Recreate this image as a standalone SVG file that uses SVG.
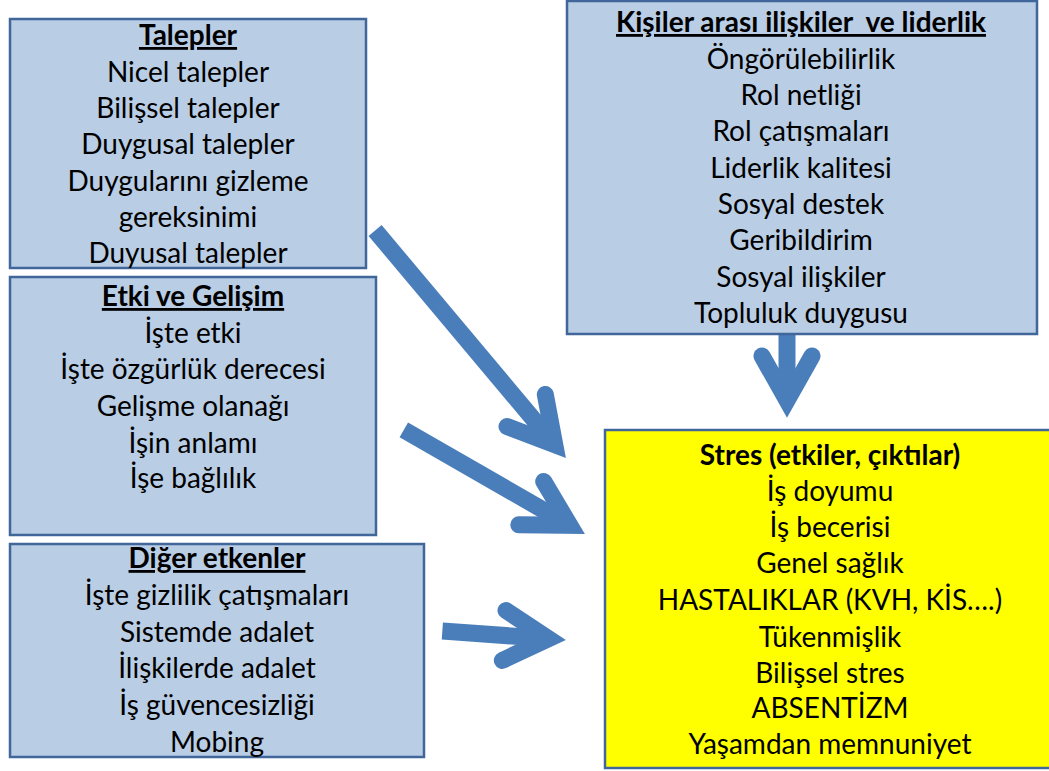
<svg xmlns="http://www.w3.org/2000/svg" width="1049" height="771" viewBox="0 0 1049 771">
<style>
  .box { fill: #B9CDE5; stroke: #41669A; stroke-width: 2.5; }
  .ybox { fill: #FFFF00; stroke: #41669A; stroke-width: 2.5; }
  text { font-family: Lato, "Liberation Sans", sans-serif; font-size: 28px; fill: #000; text-anchor: middle; }
  .t { font-weight: bold; text-decoration: underline; }
  .tb { font-weight: bold; }
  .shaft { stroke: #4A7EBB; stroke-width: 17; fill: none; stroke-linecap: butt; }
  .head { stroke: #4A7EBB; stroke-width: 17; fill: none; stroke-linecap: round; stroke-linejoin: miter; stroke-miterlimit: 6; }
</style>
<defs>
  <polyline id="ah" class="head" points="-62,-25 -17.5,0 -62,25"/>
</defs>
<g id="connectors">
  <g transform="translate(566,458) rotate(50)">
    <line class="shaft" x1="-297" y1="0" x2="-20" y2="0"/>
    <use href="#ah"/>
  </g>
  <g transform="translate(585,534) rotate(29.9)">
    <line class="shaft" x1="-209" y1="0" x2="-20" y2="0"/>
    <use href="#ah"/>
  </g>
  <g transform="translate(566,640) rotate(4.2)">
    <line class="shaft" x1="-124" y1="0" x2="-20" y2="0"/>
    <use href="#ah"/>
  </g>
  <g transform="translate(787,418) rotate(90)">
    <line class="shaft" x1="-84" y1="0" x2="-20" y2="0"/>
    <use href="#ah"/>
  </g>
</g>
<g id="talepler">
  <rect class="box" x="10" y="19" width="356" height="249"/>
  <text x="188" y="45" class="t">Talepler</text>
  <text x="188" y="81.5">Nicel talepler</text>
  <text x="188" y="118">Bilişsel talepler</text>
  <text x="188" y="154">Duygusal talepler</text>
  <text x="188" y="190.5">Duygularını gizleme</text>
  <text x="188" y="227">gereksinimi</text>
  <text x="188" y="263">Duyusal talepler</text>
</g>
<g id="etki">
  <rect class="box" x="10" y="277" width="366" height="258"/>
  <text x="193" y="306" class="t">Etki ve Gelişim</text>
  <text x="193" y="343">İşte etki</text>
  <text x="193" y="379">İşte özgürlük derecesi</text>
  <text x="193" y="416">Gelişme olanağı</text>
  <text x="193" y="453">İşin anlamı</text>
  <text x="193" y="488">İşe bağlılık</text>
</g>
<g id="diger">
  <rect class="box" x="10" y="544" width="414" height="213"/>
  <text x="217" y="568" class="t">Diğer etkenler</text>
  <text x="217" y="605">İşte gizlilik çatışmaları</text>
  <text x="217" y="642">Sistemde adalet</text>
  <text x="217" y="678">İlişkilerde adalet</text>
  <text x="217" y="715">İş güvencesizliği</text>
  <text x="217" y="752">Mobing</text>
</g>
<g id="kisiler">
  <rect class="box" x="567" y="1" width="470" height="333"/>
  <text x="801" y="32" class="t" xml:space="preserve">Kişiler arası ilişkiler  ve liderlik</text>
  <text x="801" y="68.5">Öngörülebilirlik</text>
  <text x="801" y="105">Rol netliği</text>
  <text x="801" y="141">Rol çatışmaları</text>
  <text x="801" y="178">Liderlik kalitesi</text>
  <text x="801" y="214">Sosyal destek</text>
  <text x="801" y="250">Geribildirim</text>
  <text x="801" y="287">Sosyal ilişkiler</text>
  <text x="801" y="323">Topluluk duygusu</text>
</g>
<g id="stres">
  <rect class="ybox" x="605" y="430" width="460" height="338"/>
  <text x="830" y="465" class="tb">Stres (etkiler, çıktılar)</text>
  <text x="830" y="501">İş doyumu</text>
  <text x="830" y="537">İş becerisi</text>
  <text x="830" y="573">Genel sağlık</text>
  <text x="830" y="610">HASTALIKLAR (KVH, KİS….)</text>
  <text x="830" y="647">Tükenmişlik</text>
  <text x="830" y="683">Bilişsel stres</text>
  <text x="830" y="718">ABSENTİZM</text>
  <text x="830" y="754">Yaşamdan memnuniyet</text>
</g>
</svg>
